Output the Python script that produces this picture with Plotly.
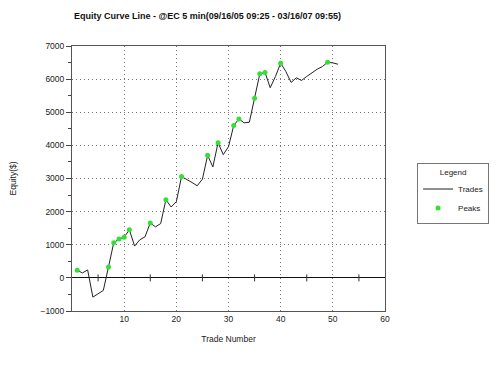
import plotly.graph_objects as go

trades = list(range(1, 52))
equity = [230, 150, 240, -580, -480, -380, 330, 1060, 1170, 1230,
          1450, 960, 1150, 1240, 1660, 1540, 1640, 2360, 2140, 2300,
          3060, 2980, 2880, 2780, 2980, 3700, 3350, 4080, 3720, 3960,
          4600, 4800, 4680, 4700, 5420, 6160, 6200, 5740, 6080, 6480,
          6230, 5900, 6040, 5960, 6080, 6200, 6300, 6380, 6510, 6490,
          6450]
peak_trades = [1, 7, 8, 9, 10, 11, 15, 18, 21, 26, 28, 31, 32, 35, 36, 37, 40, 49]
peak_equity = [equity[t - 1] for t in peak_trades]

x_ticks = [10, 20, 30, 40, 50, 60]
y_ticks = [-1000, 0, 1000, 2000, 3000, 4000, 5000, 6000, 7000]
zero_axis_minor_ticks = [5, 15, 25, 35, 45, 55]

FONT = "Liberation Sans, Arial, sans-serif"
GRID_DASH = "1px,3px"

fig = go.Figure()
# small tick marks across the zero axis line
fig.add_trace(go.Scatter(x=zero_axis_minor_ticks, y=[0] * len(zero_axis_minor_ticks),
                         mode="markers", showlegend=False, hoverinfo="skip",
                         marker=dict(symbol="line-ns", size=5,
                                     line=dict(width=1, color="#333333"))))
fig.add_trace(go.Scatter(x=trades, y=equity, mode="lines", name="Trades",
                         line=dict(color="#222222", width=1)))
fig.add_trace(go.Scatter(x=peak_trades, y=peak_equity, mode="markers", name="Peaks",
                         marker=dict(color="#33e033", size=5)))

fig.update_layout(
    width=500, height=373,
    margin=dict(l=72, r=114, t=46, b=62),
    paper_bgcolor="white", plot_bgcolor="white",
    font=dict(family=FONT, size=8, color="#222222"),
    title=dict(text="<b>Equity Curve Line - @EC 5 min(09/16/05 09:25 - 03/16/07 09:55)</b>",
               x=0.415, xanchor="center", y=0.957, yanchor="middle",
               font=dict(family=FONT, size=9, color="#111111")),
    xaxis=dict(range=[0, 60], tickvals=x_ticks, showgrid=True, gridcolor="#777777",
               griddash=GRID_DASH, gridwidth=1, showline=True, linecolor="#555555",
               mirror=True, ticks="", zeroline=False,
               tickfont=dict(size=8.5),
               title=dict(text="Trade Number", font=dict(size=8.5), standoff=12)),
    yaxis=dict(range=[-1000, 7000], tickvals=y_ticks, showgrid=True, gridcolor="#777777",
               griddash=GRID_DASH, gridwidth=1, showline=True, linecolor="#555555",
               mirror=True, ticks="outside", ticklen=5, tickcolor="#444444",
               tickfont=dict(size=8.5),
               minor=dict(dtick=500, ticks="outside", ticklen=3, tickcolor="#444444",
                          showgrid=False),
               zeroline=True, zerolinecolor="#111111", zerolinewidth=1,
               title=dict(text="Equity($)", font=dict(size=8.5), standoff=22)),
    legend=dict(x=1.099, y=0.558, xanchor="left", yanchor="top",
                bordercolor="#777777", borderwidth=1, bgcolor="white",
                title=dict(text="Legend", side="top center", font=dict(size=8)),
                font=dict(size=8), itemwidth=30, tracegroupgap=0),
    showlegend=True,
)

fig.write_html("out.html")
